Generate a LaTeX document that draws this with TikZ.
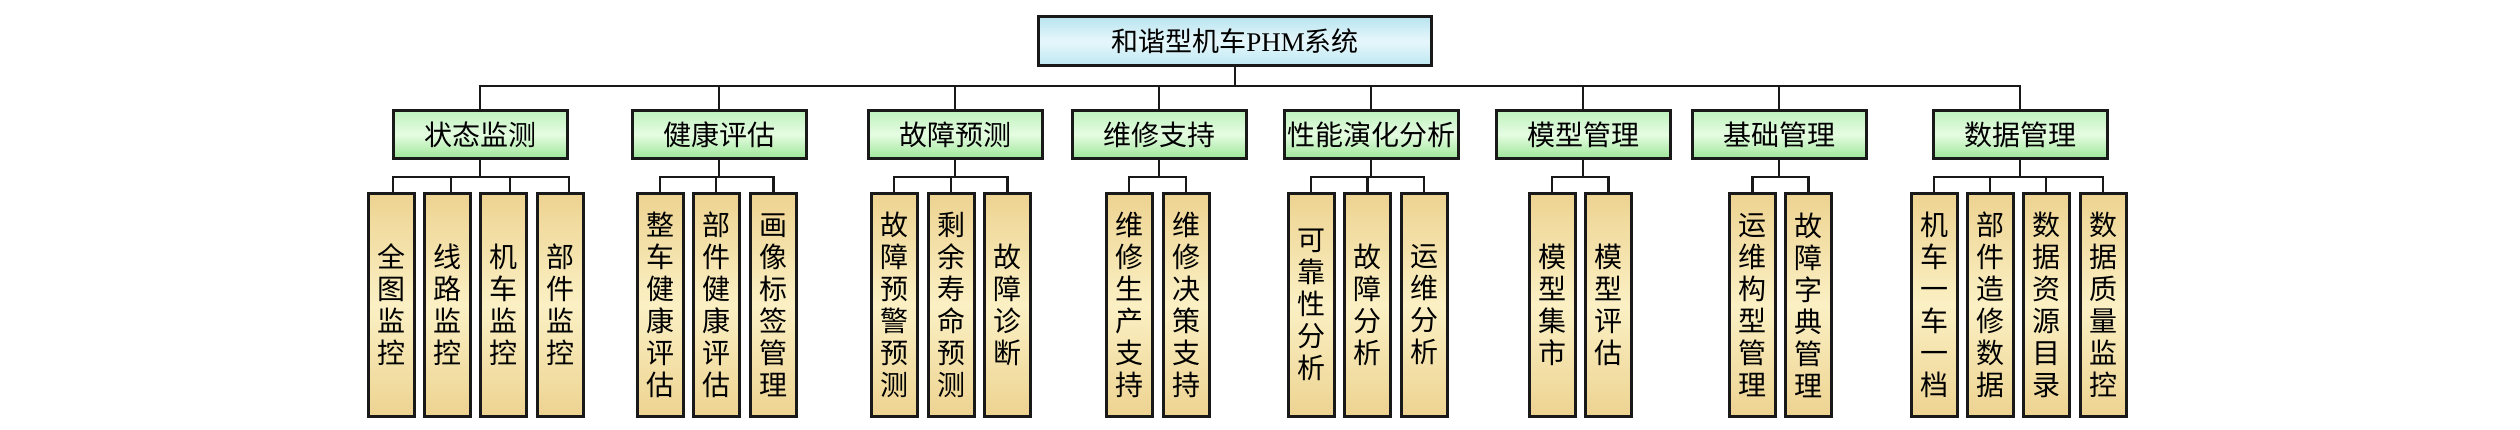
\documentclass[tikz,border=0pt]{standalone}
\usepackage{fontspec}
\setmainfont{Liberation Serif}
\newfontfamily\cjk{Noto Sans CJK SC}
\definecolor{lineblk}{RGB}{25,25,25}
\definecolor{cyantop}{RGB}{184,228,240}
\definecolor{cyanmid}{RGB}{230,247,251}
\definecolor{cyanbot}{RGB}{190,232,242}
\definecolor{greentop}{RGB}{190,242,190}
\definecolor{greenmid}{RGB}{230,252,226}
\definecolor{greenbot}{RGB}{158,230,152}
\definecolor{tantop}{RGB}{237,211,145}
\definecolor{tanmid}{RGB}{251,240,196}
\definecolor{tanbot}{RGB}{237,211,145}
\tikzset{
  topbox/.style={draw=lineblk, line width=3pt, minimum width=393pt, minimum height=49pt, inner sep=0pt,
    top color=cyantop, bottom color=cyanbot, middle color=cyanmid, font=\fontsize{27}{30}\selectfont},
  midbox/.style={draw=lineblk, line width=3pt, minimum width=174pt, minimum height=48pt, inner sep=0pt,
    top color=greentop, bottom color=greenbot, middle color=greenmid, font=\cjk\fontsize{28}{30}\selectfont},
  leafbox/.style={draw=lineblk, line width=3pt, minimum width=46pt, minimum height=222pt, inner sep=0pt,
    top color=tantop, bottom color=tanbot, middle color=tanmid, align=center,
    font=\cjk\fontsize{28}{32}\selectfont},
  conn/.style={draw=lineblk, line width=2.6pt, line join=miter}
}
\begin{document}
\begin{tikzpicture}[x=1pt,y=-1pt]
\useasboundingbox (0,0) rectangle (2520,430);
% top
\node[topbox] (T) at (1235,41) {{\cjk 和谐型机车}PHM{\cjk 系统}};
% mid boxes
\node[midbox] (M1) at (480,134.5) {状态监测};
\node[midbox] (M2) at (719,134.5) {健康评估};
\node[midbox] (M3) at (955,134.5) {故障预测};
\node[midbox] (M4) at (1159,134.5) {维修支持};
\node[midbox] (M5) at (1371,134.5) {性能演化分析};
\node[midbox] (M6) at (1583,134.5) {模型管理};
\node[midbox] (M7) at (1779,134.5) {基础管理};
\node[midbox] (M8) at (2020,134.5) {数据管理};
% leaves
\node[leafbox] (L11) at (391,305) {全\\图\\监\\控};
\node[leafbox] (L12) at (447,305) {线\\路\\监\\控};
\node[leafbox] (L13) at (503,305) {机\\车\\监\\控};
\node[leafbox] (L14) at (560.5,305) {部\\件\\监\\控};
\node[leafbox] (L21) at (660,305) {整\\车\\健\\康\\评\\估};
\node[leafbox] (L22) at (716,305) {部\\件\\健\\康\\评\\估};
\node[leafbox] (L23) at (773.5,305) {画\\像\\标\\签\\管\\理};
\node[leafbox] (L31) at (894,305) {故\\障\\预\\警\\预\\测};
\node[leafbox] (L32) at (951,305) {剩\\余\\寿\\命\\预\\测};
\node[leafbox] (L33) at (1007.5,305) {故\\障\\诊\\断};
\node[leafbox] (L41) at (1129,305) {维\\修\\生\\产\\支\\持};
\node[leafbox] (L42) at (1186,305) {维\\修\\决\\策\\支\\持};
\node[leafbox] (L51) at (1311,305) {可\\靠\\性\\分\\析};
\node[leafbox] (L52) at (1367.5,305) {故\\障\\分\\析};
\node[leafbox] (L53) at (1424,305) {运\\维\\分\\析};
\node[leafbox] (L61) at (1552,305) {模\\型\\集\\市};
\node[leafbox] (L62) at (1608.5,305) {模\\型\\评\\估};
\node[leafbox] (L71) at (1752.5,305) {运\\维\\构\\型\\管\\理};
\node[leafbox] (L72) at (1808.5,305) {故\\障\\字\\典\\管\\理};
\node[leafbox] (L81) at (1934,305) {机\\车\\一\\车\\一\\档};
\node[leafbox] (L82) at (1990,305) {部\\件\\造\\修\\数\\据};
\node[leafbox] (L83) at (2046,305) {数\\据\\资\\源\\目\\录};
\node[leafbox] (L84) at (2103,305) {数\\据\\质\\量\\监\\控};
% bus coordinates
\coordinate (TB) at (1235,86);
\coordinate (B1) at (480,177);
\coordinate (B2) at (719,177);
\coordinate (B3) at (955,177);
\coordinate (B4) at (1159,177);
\coordinate (B5) at (1371,177);
\coordinate (B6) at (1583,177);
\coordinate (B7) at (1779,177);
\coordinate (B8) at (2020,177);
% top connectors
\draw[conn] (T.south) -- (TB);
\foreach \m in {M1,M2,M3,M4,M5,M6,M7,M8} \draw[conn] (\m.north) |- (TB);
% group connectors
\foreach \i in {1,...,8} \draw[conn] (M\i.south) -- (B\i);
\draw[conn] ([xshift=2pt]L11.north) |- (B1);
\draw[conn] ([xshift=4pt]L12.north) |- (B1);
\draw[conn] ([xshift=7pt]L13.north) |- (B1);
\draw[conn] ([xshift=8.5pt]L14.north) |- (B1);
\foreach \l in {L21,L22,L23} \draw[conn] (\l.north) |- (B2);
\foreach \l in {L31,L32,L33} \draw[conn] (\l.north) |- (B3);
\foreach \l in {L41,L42} \draw[conn] (\l.north) |- (B4);
\foreach \l in {L51,L52,L53} \draw[conn] (\l.north) |- (B5);
\foreach \l in {L61,L62} \draw[conn] (\l.north) |- (B6);
\foreach \l in {L71,L72} \draw[conn] (\l.north) |- (B7);
\foreach \l in {L81,L82,L83,L84} \draw[conn] (\l.north) |- (B8);
\end{tikzpicture}
\end{document}
